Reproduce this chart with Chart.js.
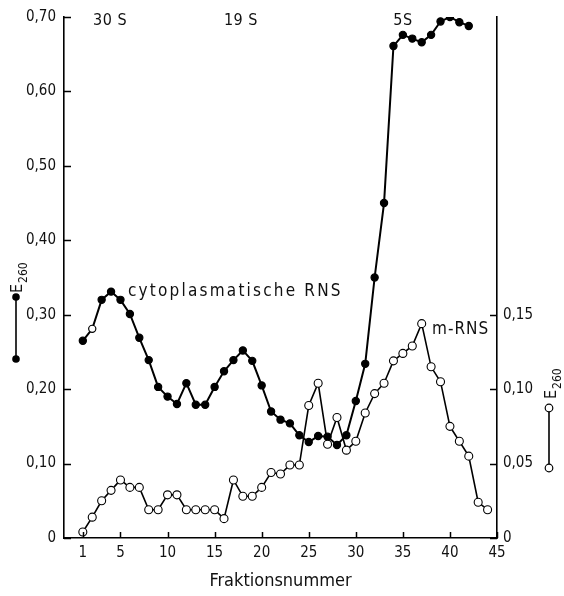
<!DOCTYPE html>
<html>
<head>
<meta charset="utf-8">
<script src="https://cdn.jsdelivr.net/npm/chart.js@4.4.1/dist/chart.umd.min.js"></script>
<style>
html,body{margin:0;padding:0;background:#fff;}
#wrap{width:564px;height:596px;position:relative;}
</style>
</head>
<body>
<div id="wrap"><canvas id="c" width="564" height="596"></canvas></div>
<script>
// ---- data ----
const cytoFractions = [1,2,3,4,5,6,7,8,9,10,11,12,13,14,15,16,17,18,19,20,21,22,23,24,25,26,27,28,29,30,31,32,33,34,35,36,37,38,39,40,41,42];
const cytoRNS = [0.265,0.281,0.320,0.331,0.320,0.301,0.269,0.239,0.203,0.190,
                 0.180,0.208,0.179,0.179,0.203,0.224,0.239,0.252,0.238,0.205,
                 0.170,0.159,0.154,0.138,0.129,0.137,0.136,0.125,0.138,0.184,
                 0.234,0.350,0.450,0.661,0.676,0.671,0.666,0.676,0.694,0.700,0.693,0.688];
const mFractions = [1,2,3,4,5,6,7,8,9,10,11,12,13,14,15,16,17,18,19,20,21,22,23,24,25,26,27,28,29,30,31,32,33,34,35,36,37,38,39,40,41,42,43,44];
const mRNS = [0.004,0.014,0.025,0.032,0.039,0.034,0.034,0.019,0.019,0.029,
              0.029,0.019,0.019,0.019,0.019,0.013,0.039,0.028,0.028,0.034,
              0.044,0.043,0.049,0.049,0.089,0.104,0.063,0.081,0.059,0.065,
              0.084,0.097,0.104,0.119,0.124,0.129,0.144,0.115,0.105,0.075,
              0.065,0.055,0.024,0.019];
const xTicks = [1,5,10,15,20,25,30,35,40,45];
const leftTicks = [0,0.10,0.20,0.30,0.40,0.50,0.60,0.70];
const rightTicks = [0,0.05,0.10,0.15];
const peakLabels = ["30 S","19 S","5S"];
const peakPositions = [3.9,17.8,35.0];
const seriesLabels = ["cytoplasmatische RNS","m-RNS"];
const axisTitleX = "Fraktionsnummer";

const FONT = '"Liberation Sans Narrow","DejaVu Sans Condensed","Liberation Sans",sans-serif';
const fmt = v => v === 0 ? "0" : v.toFixed(2).replace('.', ',');

const decor = {
  id: 'decor',
  afterDraw(chart) {
    const ctx = chart.ctx;
    const xs = chart.scales.x, yl = chart.scales.y, yr = chart.scales.y2;
    const area = chart.chartArea;
    ctx.save();
    ctx.strokeStyle = '#000';
    ctx.lineWidth = 1.5;
    // inward ticks
    ctx.beginPath();
    leftTicks.forEach(v => { const p = Math.round(yl.getPixelForValue(v)) + 0.5; ctx.moveTo(area.left, p); ctx.lineTo(area.left + 7, p); });
    rightTicks.forEach(v => { const p = Math.round(yr.getPixelForValue(v)) + 0.5; ctx.moveTo(area.right, p); ctx.lineTo(area.right - 7, p); });
    xTicks.forEach(v => { const p = Math.round(xs.getPixelForValue(v)) + 0.5; ctx.moveTo(p, area.bottom); ctx.lineTo(p, area.bottom - 6); });
    ctx.stroke();

    ctx.fillStyle = '#111';
    ctx.textBaseline = 'middle';
    ctx.textAlign = 'center';
    // peak labels
    ctx.font = '16px ' + FONT;
    ctx.letterSpacing = '0.5px';
    peakLabels.forEach((t, i) => ctx.fillText(t, xs.getPixelForValue(peakPositions[i]), 21));
    // series labels
    ctx.font = '17px ' + FONT;
    ctx.letterSpacing = '2.2px';
    ctx.textAlign = 'left';
    ctx.fillText(seriesLabels[0], xs.getPixelForValue(5.8), yl.getPixelForValue(0.331));
    ctx.letterSpacing = '1px';
    ctx.fillText(seriesLabels[1], xs.getPixelForValue(38.1), yr.getPixelForValue(0.140));
    ctx.letterSpacing = '0px';

    // rotated E260
    const drawE = (x, y) => {
      ctx.save();
      ctx.translate(x, y);
      ctx.rotate(-Math.PI / 2);
      ctx.textAlign = 'left';
      ctx.textBaseline = 'alphabetic';
      ctx.font = '16px ' + FONT;
      ctx.fillText('E', 0, 0);
      const w = ctx.measureText('E').width;
      ctx.font = '12px ' + FONT;
      ctx.fillText('260', w + 1, 5);
      ctx.restore();
    };
    drawE(22, 293);
    drawE(556, 399);

    // legend glyphs
    ctx.lineWidth = 1.6;
    ctx.beginPath(); ctx.moveTo(16, 297); ctx.lineTo(16, 359); ctx.stroke();
    ctx.fillStyle = '#000';
    [297, 359].forEach(y => { ctx.beginPath(); ctx.arc(16, y, 3.8, 0, Math.PI * 2); ctx.fill(); });
    ctx.beginPath(); ctx.moveTo(549, 408); ctx.lineTo(549, 468); ctx.stroke();
    ctx.fillStyle = '#fff';
    ctx.lineWidth = 1.2;
    [408, 468].forEach(y => { ctx.beginPath(); ctx.arc(549, y, 3.8, 0, Math.PI * 2); ctx.fill(); ctx.stroke(); });
    ctx.restore();
  }
};

new Chart(document.getElementById('c'), {
  type: 'line',
  data: {
    datasets: [
      {
        label: seriesLabels[1],
        data: mFractions.map((f, i) => ({x: f, y: mRNS[i]})),
        yAxisID: 'y2',
        borderColor: '#000',
        borderWidth: 1.6,
        pointRadius: 4,
        pointBackgroundColor: '#fff',
        pointBorderColor: '#000',
        pointBorderWidth: 1.1,
        tension: 0
      },
      {
        label: seriesLabels[0],
        data: cytoFractions.map((f, i) => ({x: f, y: cytoRNS[i]})),
        yAxisID: 'y',
        borderColor: '#000',
        borderWidth: 2,
        pointRadius: 3.6,
        pointBackgroundColor: ctx => ctx.dataIndex === 1 ? '#fff' : '#000',
        pointBorderColor: '#000',
        pointBorderWidth: 1.2,
        tension: 0
      }
    ]
  },
  options: {
    responsive: false,
    animation: false,
    events: [],
    layout: { padding: { top: 15, left: 0, right: 0, bottom: 0 } },
    plugins: { legend: { display: false }, tooltip: { enabled: false } },
    scales: {
      x: {
        type: 'linear', min: -1, max: 45, position: 'bottom',
        afterBuildTicks: s => { s.ticks = xTicks.map(v => ({value: v})); },
        afterFit: s => { s.height = 58; },
        grid: { display: true, drawOnChartArea: false, drawTicks: false },
        border: { display: true, color: '#000', width: 1.6 },
        ticks: { color: '#111', padding: 6, maxRotation: 0, autoSkip: false,
                 font: { family: FONT, size: 15 }, callback: v => String(v) },
        title: { display: true, text: axisTitleX, color: '#111', padding: { top: 1 },
                 font: { family: FONT, size: 18 } }
      },
      y: {
        type: 'linear', position: 'left', min: 0, max: 0.70,
        afterBuildTicks: s => { s.ticks = leftTicks.map(v => ({value: v})); },
        afterFit: s => { s.width = 64; },
        grid: { display: true, drawOnChartArea: false, drawTicks: false },
        border: { display: true, color: '#000', width: 1.6 },
        ticks: { color: '#111', padding: 8, font: { family: FONT, size: 15 }, callback: v => fmt(v) }
      },
      y2: {
        type: 'linear', position: 'right', min: 0, max: 0.35,
        afterBuildTicks: s => { s.ticks = rightTicks.map(v => ({value: v})); },
        afterFit: s => { s.width = 67; },
        grid: { display: true, drawOnChartArea: false, drawTicks: false },
        border: { display: true, color: '#000', width: 1.6 },
        ticks: { color: '#111', padding: 6, font: { family: FONT, size: 15 }, callback: v => fmt(v) }
      }
    }
  },
  plugins: [decor]
});
</script>
</body>
</html>
